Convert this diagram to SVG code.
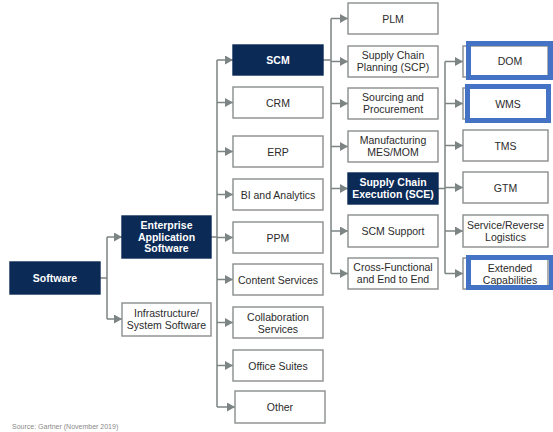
<svg xmlns="http://www.w3.org/2000/svg" width="553" height="432" viewBox="0 0 553 432">
<defs>
<marker id="ah" markerUnits="userSpaceOnUse" markerWidth="9" markerHeight="10" refX="8" refY="4.5" orient="auto">
<path d="M0,0 L8,4.5 L0,9 z" fill="#7c8484"/>
</marker>
<style>
.b{fill:#fff;stroke:#8a8e8e;stroke-width:1.4}
.d{fill:#0b2a56;stroke:#0b2a56;stroke-width:1.4}
.t{font-family:"Liberation Sans",Arial,sans-serif;font-size:10.5px;fill:#2b2b2b;text-anchor:middle}
.w{font-family:"Liberation Sans",Arial,sans-serif;font-size:10.5px;font-weight:bold;fill:#fff;text-anchor:middle}
.c{fill:none;stroke:#7c8484;stroke-width:1.5}
.a{fill:none;stroke:#7c8484;stroke-width:1.5;marker-end:url(#ah)}
.hl{fill:none;stroke:#4472c4;stroke-width:5}
.src{font-family:"Liberation Sans",Arial,sans-serif;font-size:7px;fill:#8a8a8a}
</style>
</defs>
<rect width="553" height="432" fill="#fff"/>

<g id="connectors">
<path class="c" d="M100,278 H107 M107,237 V319"/>
<path class="a" d="M107,237 H122"/>
<path class="a" d="M107,319 H122"/>
<path class="c" d="M211,237 H217 M217,60 V407"/>
<path class="a" d="M217,60 H233"/>
<path class="a" d="M217,102.5 H233"/>
<path class="a" d="M217,151.5 H233"/>
<path class="a" d="M217,194.5 H233"/>
<path class="a" d="M217,237.5 H233"/>
<path class="a" d="M217,279.5 H233"/>
<path class="a" d="M217,322.5 H233"/>
<path class="a" d="M217,365.5 H233"/>
<path class="a" d="M217,407 H235"/>
<path class="c" d="M323,60 H331 M331,18.5 V273.5"/>
<path class="a" d="M331,18.5 H348"/>
<path class="a" d="M331,61.5 H348"/>
<path class="a" d="M331,103.5 H348"/>
<path class="a" d="M331,146.5 H348"/>
<path class="a" d="M331,188.5 H348"/>
<path class="a" d="M331,231 H348"/>
<path class="a" d="M331,273.5 H348"/>
<path class="c" d="M438,188.5 H445 M445,61.5 V273.5"/>
<path class="a" d="M445,61.5 H463"/>
<path class="a" d="M445,103.5 H463"/>
<path class="a" d="M445,145.5 H463"/>
<path class="a" d="M445,187.5 H463"/>
<path class="a" d="M445,231 H463"/>
<path class="a" d="M445,273.5 H463"/>
</g>

<g id="software"><rect class="d" x="10" y="262" width="90" height="32"/><text class="w" x="55" y="282">Software</text></g>
<g id="eas"><rect class="d" x="122" y="216" width="89" height="42"/><text class="w" x="166.5" y="229">Enterprise</text><text class="w" x="166.5" y="240.5">Application</text><text class="w" x="166.5" y="252">Software</text></g>
<g id="infra"><rect class="b" x="122" y="303" width="89" height="33"/><text class="t" x="166.5" y="317">Infrastructure/</text><text class="t" x="166.5" y="329">System Software</text></g>

<g id="scm"><rect class="d" x="233" y="45" width="90" height="30"/><text class="w" x="278" y="64">SCM</text></g>
<g id="crm"><rect class="b" x="233" y="87" width="90" height="31"/><text class="t" x="278" y="106.5">CRM</text></g>
<g id="erp"><rect class="b" x="233" y="136" width="90" height="31"/><text class="t" x="278" y="155.5">ERP</text></g>
<g id="bi"><rect class="b" x="233" y="179" width="90" height="31"/><text class="t" x="278" y="198.5">BI and Analytics</text></g>
<g id="ppm"><rect class="b" x="233" y="222" width="90" height="31"/><text class="t" x="278" y="241.5">PPM</text></g>
<g id="content"><rect class="b" x="233" y="264" width="90" height="31"/><text class="t" x="278" y="283.5">Content Services</text></g>
<g id="collab"><rect class="b" x="233" y="307" width="90" height="31"/><text class="t" x="278" y="320.5">Collaboration</text><text class="t" x="278" y="332.5">Services</text></g>
<g id="office"><rect class="b" x="233" y="350" width="90" height="31"/><text class="t" x="278" y="369.5">Office Suites</text></g>
<g id="other"><rect class="b" x="235" y="391" width="90" height="32"/><text class="t" x="280" y="411">Other</text></g>

<g id="plm"><rect class="b" x="348" y="3" width="90" height="31"/><text class="t" x="393" y="22.5">PLM</text></g>
<g id="scp"><rect class="b" x="348" y="46" width="90" height="31"/><text class="t" x="393" y="59">Supply Chain</text><text class="t" x="393" y="71">Planning (SCP)</text></g>
<g id="sourcing"><rect class="b" x="348" y="88" width="90" height="31"/><text class="t" x="393" y="101">Sourcing and</text><text class="t" x="393" y="113">Procurement</text></g>
<g id="mfg"><rect class="b" x="348" y="131" width="90" height="31"/><text class="t" x="393" y="144">Manufacturing</text><text class="t" x="393" y="156">MES/MOM</text></g>
<g id="sce"><rect class="d" x="348" y="173" width="90" height="31"/><text class="w" x="393" y="186">Supply Chain</text><text class="w" x="393" y="198">Execution (SCE)</text></g>
<g id="scmsupport"><rect class="b" x="348" y="215" width="90" height="32"/><text class="t" x="393" y="234.5">SCM Support</text></g>
<g id="crossfn"><rect class="b" x="348" y="258" width="90" height="31"/><text class="t" x="393" y="271">Cross-Functional</text><text class="t" x="393" y="283">and End to End</text></g>

<g id="dom"><rect class="b" x="463" y="46" width="85" height="31"/><rect class="hl" x="468.5" y="43.5" width="82" height="34"/><text class="t" x="510" y="65">DOM</text></g>
<g id="wms"><rect class="b" x="463" y="88" width="85" height="31"/><rect class="hl" x="467.5" y="86.5" width="81" height="34"/><text class="t" x="508" y="107.5">WMS</text></g>
<g id="tms"><rect class="b" x="463" y="130" width="85" height="31"/><text class="t" x="505.5" y="149.5">TMS</text></g>
<g id="gtm"><rect class="b" x="463" y="172" width="85" height="31"/><text class="t" x="505.5" y="191.5">GTM</text></g>
<g id="reverse"><rect class="b" x="463" y="215" width="85" height="32"/><text class="t" x="505.5" y="228.5">Service/Reverse</text><text class="t" x="505.5" y="240.5">Logistics</text></g>
<g id="extended"><rect class="b" x="463" y="258" width="85" height="31"/><text class="t" x="510" y="272">Extended</text><text class="t" x="510" y="284">Capabilities</text><rect class="hl" x="468.5" y="257.5" width="83" height="30"/></g>

<text class="src" x="12" y="429">Source: Gartner (November 2019)</text>
</svg>
